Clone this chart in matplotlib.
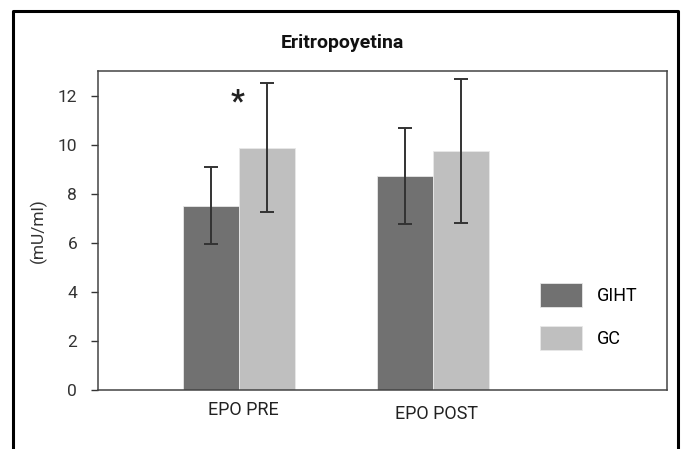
import matplotlib.pyplot as plt
from matplotlib.lines import Line2D
import numpy as np

categories = ['EPO PRE', 'EPO POST']
groups = ['GIHT', 'GC']
means = {'GIHT': [7.51, 8.73], 'GC': [9.88, 9.74]}
errors = {'GIHT': [1.58, 1.96], 'GC': [2.62, 2.92]}
colors = {'GIHT': '#717171', 'GC': '#bfbfbf'}
star_pos = (-0.01, 11.75)

plt.rcParams['font.family'] = ['Roboto', 'DejaVu Sans']

fig = plt.figure(figsize=(6.82, 4.49), dpi=100)
W, H = 682, 449
ax = fig.add_axes([98 / W, 1 - 390 / H, (667 - 98) / W, (390 - 71) / H])

x = np.arange(len(categories))
w = 0.289
for i, g in enumerate(groups):
    pos = x + (i - 0.5) * w
    ax.bar(pos, means[g], w, color=colors[g], edgecolor='#e8e8e8', linewidth=0.6, label=g)
    ax.errorbar(pos, means[g], yerr=errors[g], fmt='none', ecolor='#333333',
                elinewidth=1.4, capsize=4.8, capthick=1.4)

ax.text(star_pos[0], star_pos[1], '*', fontsize=22, fontweight='bold', ha='center', va='center',
        color='#222222')

ax.set_xlim(-0.727, 2.206)
ax.set_ylim(0, 13)
ax.set_yticks(range(0, 13, 2))
ax.set_xticks(x + 0.02)
ax.set_xticklabels(categories)
ax.tick_params(axis='x', length=0, pad=8, labelsize=13, colors='#222222')
ax.tick_params(axis='y', length=5, width=1, pad=10, labelsize=12.5, colors='#333333')
ax.get_xticklabels()[1].set_y(-0.012)
for s in ax.spines.values():
    s.set_color('#444444')
    s.set_linewidth(1.1)
ax.set_ylabel('(mU/ml)', fontsize=12.5, color='#333333', labelpad=8)

ax.legend(loc='upper left', bbox_to_anchor=(0.776, 0.335), frameon=False, fontsize=13,
          borderaxespad=0, borderpad=0,
          handlelength=2.33, handleheight=1.67, handletextpad=0.83, labelspacing=1.06)

fig.text(342 / W, 1 - 43 / H, 'Eritropoyetina', ha='center', va='center', fontsize=14,
         fontweight='bold', family=['Liberation Sans Narrow', 'Roboto'], color='#111111')

# outer frame (open at bottom)
fx = [13 / W, 13 / W, 678 / W, 678 / W]
fy = [0, 1 - 11 / H, 1 - 11 / H, 0]
fig.add_artist(Line2D(fx, fy, color='black', linewidth=2.2, transform=fig.transFigure))

fig.savefig('out.png', dpi=100)
